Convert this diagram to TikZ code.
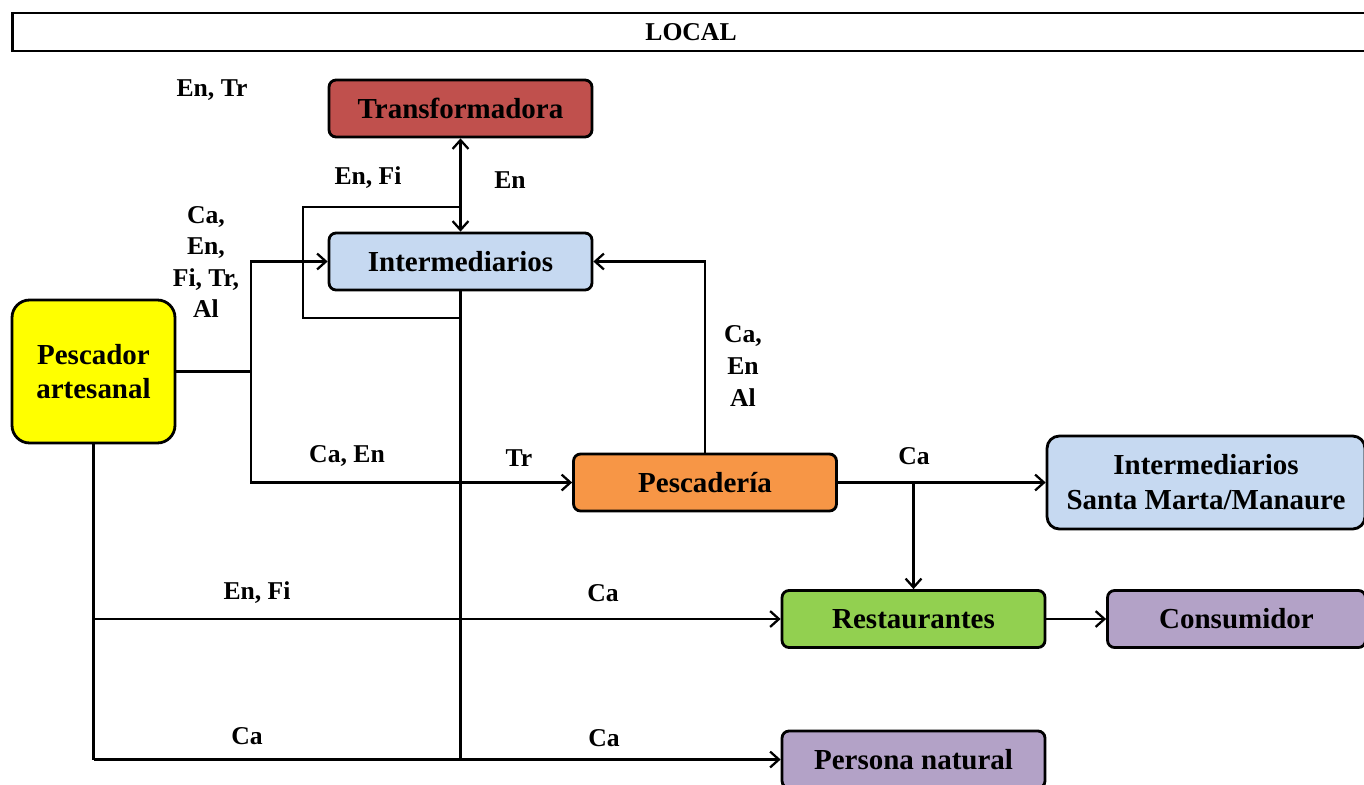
\documentclass[tikz,border=0pt]{standalone}
\usepackage{fontspec}
\setmainfont{Liberation Serif}
\usepackage{xcolor}
\usepackage{tikz}
\usetikzlibrary{arrows.meta,positioning}
\definecolor{RedF}{HTML}{C0504D}
\definecolor{BlueF}{HTML}{C6D9F1}
\definecolor{YellowF}{HTML}{FFFF00}
\definecolor{OrangeF}{HTML}{F79646}
\definecolor{GreenF}{HTML}{92D050}
\definecolor{PurpleF}{HTML}{B3A2C7}

\begin{document}
\begin{tikzpicture}[x=0.02cm,y=-0.02cm,
    font=\bfseries\fontsize{16.5}{19.8}\selectfont,
    actor/.style={draw=black,line width=1.6pt,rounded corners=4pt,minimum width=5.26cm,
      minimum height=1.14cm,align=center,inner sep=0pt},
    lab/.style={font=\bfseries\fontsize{14.6}{18}\selectfont,align=center,inner sep=0pt},
    flow/.style={line width=1.3pt},
    >={Straight Barb[length=5pt,width=9pt]}]
  \clip (0,0) rectangle (1364,784);
  \node[actor,rounded corners=0pt,minimum width=27.16cm,minimum height=0.76cm,
    font=\bfseries\fontsize{14.6}{18}\selectfont] (local) at (691,32) {LOCAL};
  \node[actor,fill=RedF] (trans) at (460.5,108.5) {Transformadora};
  \node[actor,fill=BlueF] (inter) at (460.5,261.5) {Intermediarios};
  \node[actor,fill=YellowF,minimum width=3.26cm,minimum height=2.86cm,rounded corners=10pt]
    (pesc) at (93.5,371.5) {Pescador\\artesanal};
  \node[actor,fill=OrangeF] (pdria) at (705,482.5) {Pescadería};
  \node[actor,fill=BlueF,minimum width=6.36cm,minimum height=1.86cm,rounded corners=7pt]
    (intsm) at (1206,482.5) {Intermediarios\\Santa Marta/Manaure};
  \node[actor,fill=GreenF] (rest) at (913.5,619) {Restaurantes};
  \node[actor,fill=PurpleF,minimum width=5.16cm] (cons) at (1236.5,619) {Consumidor};
  \node[actor,fill=PurpleF] (pers) at (913.5,759.5) {Persona natural};
  % junctions
  \coordinate (jA) at (251,371.5);
  \coordinate (jB) at (913.5,482.5);
  \coordinate (lpA) at (303,207);
  \coordinate (lpB) at (303,318);
  % flows from the fisherman
  \draw[flow] (pesc.east) -- (jA);
  \draw[flow,->] (jA) |- (inter.west);
  \draw[flow,->] (jA) |- (pdria.west);
  \draw[flow] (pesc.south) -- (pesc.south |- pers.west);
  \draw[flow,->] (pesc.south |- rest.west) -- (rest.west);
  \draw[flow,->] (pesc.south |- pers.west) -- (pers.west);
  % intermediaries
  \draw[flow,<->] (trans) -- (inter);
  \draw[flow] (inter.north |- lpA) -- (lpA) -- (lpB) -- (inter.south |- lpB);
  \draw[flow] (inter.south) -- (inter.south |- pers.west);
  % fish shop
  \draw[flow,->] (pdria.north) |- (inter.east);
  \draw[flow,->] (pdria.east) -- (intsm.west);
  \draw[flow,->] (jB) -- (rest.north);
  \draw[flow,->] (rest) -- (cons);
  % labels
  \node[lab] (tEnTr) at (212,90) {En, Tr};
  \node[lab] (tEnFi) at (368,178) {En, Fi};
  \node[lab] (tEn) at (510,180) {En};
  \node[lab] (tMix) at (206,262) {Ca,\\En,\\Fi, Tr,\\Al};
  \node[lab] (tPd) at (743,366) {Ca,\\En\\Al};
  \node[lab] (tCaEn) at (347,456) {Ca, En};
  \node[lab] (tTr) at (519,458) {Tr};
  \node[lab] (tCa) at (914,456) {Ca};
  \node[lab] (tEnFiB) at (257,593) {En, Fi};
  \node[lab] (tCaB) at (603,593) {Ca};
  \node[lab] (tCaC) at (247,736) {Ca};
  \node[lab] (tCaD) at (604,738) {Ca};
\end{tikzpicture}
\end{document}
